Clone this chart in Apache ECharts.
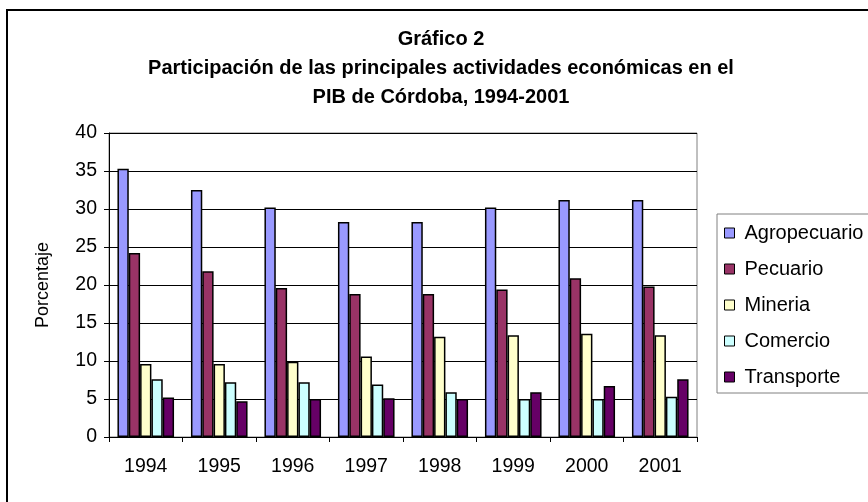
<!DOCTYPE html>
<html>
<head>
<meta charset="utf-8">
<script src="https://cdn.jsdelivr.net/npm/echarts@6/dist/echarts.min.js"></script>
<style>
  html, body { margin: 0; padding: 0; background: #fff; }
  #chart { width: 868px; height: 502px; }
</style>
</head>
<body>
<div id="chart"></div>
<script>
const years = ['1994', '1995', '1996', '1997', '1998', '1999', '2000', '2001']
const agropecuario = [35.3, 32.5, 30.2, 28.3, 28.3, 30.2, 31.2, 31.2]
const pecuario = [24.2, 21.8, 19.6, 18.8, 18.8, 19.4, 20.9, 19.8]
const mineria = [9.6, 9.6, 9.9, 10.6, 13.2, 13.4, 13.6, 13.4]
const comercio = [7.6, 7.2, 7.2, 6.9, 5.9, 5.0, 5.0, 5.3]
const transporte = [5.2, 4.7, 5.0, 5.1, 5.0, 5.9, 6.7, 7.6]
const yTicks = [0, 5, 10, 15, 20, 25, 30, 35, 40]

const font = 'Liberation Sans, Arial, sans-serif'

const bar = (name, color, data) => ({
  name: name,
  type: 'bar',
  barGap: '0%',
  barCategoryGap: '23%',
  itemStyle: { color: color, borderColor: '#000', borderWidth: 1.5 },
  data: data
})

const myChart = echarts.init(document.getElementById('chart'))

const options = {
  backgroundColor: '#fff',
  animation: false,
  title: {
    text: 'Gráfico 2\nParticipación de las principales actividades económicas en el\nPIB de Córdoba, 1994-2001',
    left: 441,
    top: 25,
    padding: 0,
    textAlign: 'center',
    textStyle: { fontFamily: font, fontSize: 20, fontWeight: 'bold', color: '#000', lineHeight: 29 }
  },
  graphic: [
    { type: 'rect', shape: { x: 7, y: 10, width: 900, height: 600 }, style: { fill: 'none', stroke: '#000', lineWidth: 2 }, z: 100 },
    { type: 'rect', shape: { x: 717, y: 214, width: 200, height: 179 }, style: { fill: 'none', stroke: '#808080', lineWidth: 1 }, z: 100 }
  ],
  legend: {
    orient: 'vertical',
    left: 724,
    top: 223,
    padding: 0,
    itemWidth: 10,
    itemHeight: 10,
    itemGap: 16,
    icon: 'rect',
    itemStyle: { borderColor: '#000', borderWidth: 1 },
    textStyle: { fontFamily: font, fontSize: 20, color: '#000', lineHeight: 20, padding: [0, 0, 0, 5] },
    data: ['Agropecuario', 'Pecuario', 'Mineria', 'Comercio', 'Transporte']
  },
  grid: {
    left: 109,
    right: 171,
    top: 133,
    bottom: 65,
    show: true,
    borderColor: '#808080',
    borderWidth: 1
  },
  xAxis: {
    type: 'category',
    data: years,
    axisLine: { lineStyle: { color: '#000', width: 1 } },
    axisTick: { show: true, length: 5, lineStyle: { color: '#000' } },
    axisLabel: { fontFamily: font, fontSize: 19.5, color: '#000', margin: 20 }
  },
  yAxis: {
    type: 'value',
    min: yTicks[0],
    max: yTicks[yTicks.length - 1],
    interval: yTicks[1] - yTicks[0],
    name: 'Porcentaje',
    nameLocation: 'middle',
    nameGap: 57,
    nameRotate: 90,
    nameTextStyle: { fontFamily: font, fontSize: 18, color: '#000' },
    axisLine: { show: true, lineStyle: { color: '#000', width: 1 } },
    axisTick: { show: true, length: 5, lineStyle: { color: '#000' } },
    axisLabel: { fontFamily: font, fontSize: 19.5, color: '#000', margin: 12 },
    splitLine: { show: true, lineStyle: { color: '#000', width: 1 } }
  },
  series: [
    bar('Agropecuario', '#9999FF', agropecuario),
    bar('Pecuario', '#993366', pecuario),
    bar('Mineria', '#FFFFCC', mineria),
    bar('Comercio', '#CCFFFF', comercio),
    bar('Transporte', '#660066', transporte)
  ]
}

myChart.setOption(options)
</script>
</body>
</html>
